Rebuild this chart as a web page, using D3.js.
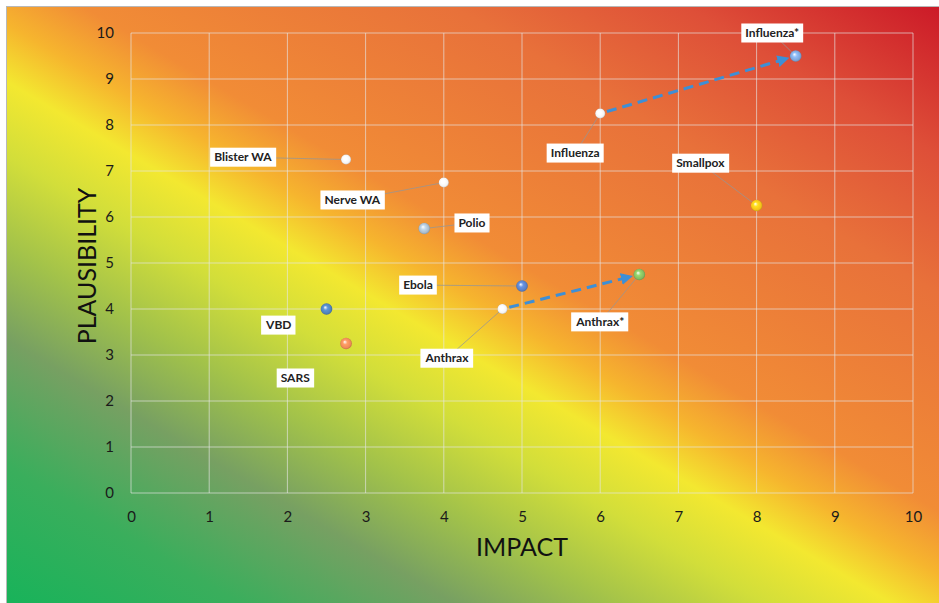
<!DOCTYPE html>
<html>
<head>
<meta charset="utf-8">
<script src="https://cdn.jsdelivr.net/npm/d3@7"></script>
<style>
  html, body { margin: 0; padding: 0; background: #ffffff; }
  svg { display: block; }
</style>
</head>
<body>
<svg id="chart" width="939" height="603"></svg>
<script>
// ---- data ----
const names        = ["Influenza*", "Influenza", "Smallpox", "Blister WA", "Nerve WA", "Polio", "Ebola", "Anthrax", "Anthrax*", "VBD", "SARS"];
const impact       = [8.5, 6, 8, 2.75, 4, 3.75, 5, 4.75, 6.5, 2.5, 2.75];
const plausibility = [9.5, 8.25, 6.25, 7.25, 6.75, 5.75, 4.5, 4, 4.75, 4, 3.25];
// label anchor points (data units)
const labelImpact       = [8.2, 5.68, 7.28, 1.43, 2.83, 4.36, 3.67, 4.04, 6.0, 1.89, 2.10];
const labelPlausibility = [10.0, 7.39, 7.17, 7.30, 6.37, 5.87, 4.52, 2.93, 3.72, 3.65, 2.50];
const pointColors = ["#7ea6da", "#f4f4f4", "#f6c21a", "#f4f4f4", "#f4f4f4", "#a9bccc", "#5a80c6", "#f4f4f4", "#84bc60", "#4f82bc", "#f08a58"];
const noLeader = ["VBD", "SARS"];
const shifts = [["Influenza", "Influenza*"], ["Anthrax", "Anthrax*"]];
const xTicks = [0,1,2,3,4,5,6,7,8,9,10];
const yTicks = [0,1,2,3,4,5,6,7,8,9,10];
const xTitle = "IMPACT";
const yTitle = "PLAUSIBILITY";

// ---- drawing ----
const W = 939, H = 603;
const svg = d3.select("#chart");
const defs = svg.append("defs");
const FONT = "Lato, 'Open Sans', sans-serif";

const x = d3.scaleLinear().domain([0, 10]).range([131, 913]);
const y = d3.scaleLinear().domain([0, 10]).range([493, 33]);

// background gradient (diagonal: green bottom-left -> yellow -> orange -> red top-right)
const bg = defs.append("linearGradient")
  .attr("id", "bgGrad")
  .attr("gradientUnits", "userSpaceOnUse")
  .attr("x1", 7).attr("y1", 603)
  .attr("x2", 508).attr("y2", -247);
[
  [0.00, "#18b35a"],
  [0.12, "#3aae5c"],
  [0.23, "#77a062"],
  [0.31, "#a2c24a"],
  [0.39, "#d2de3a"],
  [0.455, "#f3e830"],
  [0.505, "#f6b52e"],
  [0.56, "#f18c36"],
  [0.75, "#e8713a"],
  [0.87, "#de4f38"],
  [1.00, "#cc1a28"]
].forEach(([o, c]) => bg.append("stop").attr("offset", o).attr("stop-color", c));

svg.append("rect")
  .attr("x", 6.5).attr("y", 6.5)
  .attr("width", W - 6).attr("height", H - 6)
  .attr("fill", "url(#bgGrad)")
  .attr("stroke", "#b8b8b8").attr("stroke-width", 1);

// gridlines
const grid = svg.append("g").attr("class", "grid");
grid.selectAll("line.v").data(xTicks).join("line")
  .attr("x1", d => x(d)).attr("x2", d => x(d))
  .attr("y1", y(0)).attr("y2", y(10))
  .attr("stroke", "rgba(230,230,230,0.65)").attr("stroke-width", 1);
grid.selectAll("line.h").data(yTicks).join("line")
  .attr("y1", d => y(d)).attr("y2", d => y(d))
  .attr("x1", x(0)).attr("x2", x(10))
  .attr("stroke", "rgba(230,230,230,0.65)").attr("stroke-width", 1);

// axes
const xAxis = svg.append("g")
  .attr("transform", `translate(0,${y(0)})`)
  .call(d3.axisBottom(x).tickValues(xTicks).tickSize(0).tickPadding(18).tickFormat(d3.format("d")));
const yAxis = svg.append("g")
  .attr("transform", `translate(${x(0)},0)`)
  .call(d3.axisLeft(y).tickValues(yTicks).tickSize(0).tickPadding(17).tickFormat(d3.format("d")));
[xAxis, yAxis].forEach(a => {
  a.select(".domain").remove();
  a.selectAll("text").attr("font-family", FONT).attr("font-size", 15).attr("fill", "#1a1a1a");
});

// axis titles
svg.append("text")
  .attr("x", 522).attr("y", 556)
  .attr("text-anchor", "middle")
  .attr("font-family", FONT).attr("font-size", 25).attr("fill", "#111")
  .text(xTitle);
svg.append("text")
  .attr("transform", "translate(96,266) rotate(-90)")
  .attr("text-anchor", "middle")
  .attr("font-family", FONT).attr("font-size", 25).attr("fill", "#111")
  .text(yTitle);

const pts = names.map((n, i) => ({
  name: n, ix: impact[i], py: plausibility[i],
  lx: labelImpact[i], ly: labelPlausibility[i], color: pointColors[i], i
}));
const byName = Object.fromEntries(pts.map(p => [p.name, p]));

// leader lines
svg.append("g").selectAll("line").data(pts.filter(p => !noLeader.includes(p.name))).join("line")
  .attr("x1", d => x(d.ix)).attr("y1", d => y(d.py))
  .attr("x2", d => x(d.lx)).attr("y2", d => y(d.ly))
  .attr("stroke", "rgba(150,150,150,0.75)").attr("stroke-width", 1);

// arrows (dashed blue)
defs.append("marker")
  .attr("id", "arrowHead")
  .attr("viewBox", "0 0 10 10")
  .attr("refX", 8).attr("refY", 5)
  .attr("markerWidth", 4).attr("markerHeight", 4)
  .attr("orient", "auto")
  .append("path").attr("d", "M0,0 L10,5 L0,10 z").attr("fill", "#3d8fd6");

svg.append("g").selectAll("line").data(shifts).join("line")
  .each(function([a, b]) {
    const p = byName[a], q = byName[b];
    const x1 = x(p.ix), y1 = y(p.py), x2 = x(q.ix), y2 = y(q.py);
    const len = Math.hypot(x2 - x1, y2 - y1);
    const ux = (x2 - x1) / len, uy = (y2 - y1) / len;
    d3.select(this)
      .attr("x1", x1 + ux * 7).attr("y1", y1 + uy * 7)
      .attr("x2", x2 - ux * 9).attr("y2", y2 - uy * 9);
  })
  .attr("stroke", "#3d8fd6").attr("stroke-width", 3)
  .attr("stroke-dasharray", "10,6")
  .attr("marker-end", "url(#arrowHead)");

// labels
const lab = svg.append("g").selectAll("g").data(pts).join("g")
  .attr("transform", d => `translate(${x(d.lx)},${y(d.ly)})`);
const rects = lab.append("rect").attr("fill", "#ffffff");
const texts = lab.append("text")
  .attr("text-anchor", "middle").attr("dy", "0.35em")
  .attr("font-family", FONT).attr("font-size", 12).attr("font-weight", 700)
  .attr("fill", "#222")
  .text(d => d.name);
texts.each(function(d, i) {
  const bb = this.getBBox();
  d3.select(rects.nodes()[i])
    .attr("x", bb.x - 4).attr("y", -9.5)
    .attr("width", bb.width + 8).attr("height", 19);
});

// marker gradients
pts.forEach(p => {
  const g = defs.append("radialGradient")
    .attr("id", "mg" + p.i)
    .attr("cx", "50%").attr("cy", "50%").attr("r", "55%")
    .attr("fx", "38%").attr("fy", "35%");
  const c = d3.color(p.color);
  g.append("stop").attr("offset", 0).attr("stop-color", "#ffffff");
  g.append("stop").attr("offset", 0.35).attr("stop-color", c.brighter(0.4).formatHex());
  g.append("stop").attr("offset", 0.75).attr("stop-color", c.formatHex());
  g.append("stop").attr("offset", 1).attr("stop-color", c.darker(0.9).formatHex());
});

// points
svg.append("g").selectAll("circle").data(pts).join("circle")
  .attr("cx", d => x(d.ix)).attr("cy", d => y(d.py))
  .attr("r", d => d.color === "#f4f4f4" ? 5 : 5.8)
  .attr("fill", d => `url(#mg${d.i})`);
</script>
</body>
</html>
